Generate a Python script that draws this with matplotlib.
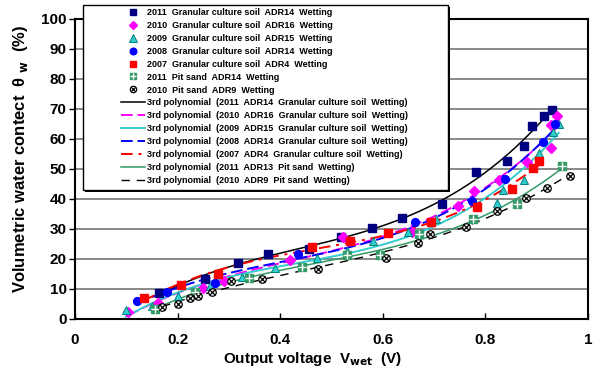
import numpy as np
import matplotlib
matplotlib.use("Agg")
import matplotlib.pyplot as plt
from matplotlib.patches import Rectangle

plt.rcParams['font.family'] = ['Liberation Sans', 'DejaVu Sans']
plt.rcParams['font.weight'] = 'bold'
plt.rcParams['mathtext.default'] = 'bf'

# --- data ---
g11_x = [0.164, 0.253, 0.318, 0.376, 0.456, 0.518, 0.579, 0.637, 0.715, 0.781, 0.842, 0.875, 0.890, 0.914, 0.930]
g11_y = [8.7, 13.3, 18.7, 21.7, 23.3, 27.4, 30.2, 33.7, 38.3, 48.9, 52.7, 57.7, 64.3, 67.7, 69.7]

g10_x = [0.103, 0.162, 0.250, 0.291, 0.420, 0.522, 0.656, 0.747, 0.778, 0.827, 0.881, 0.928, 0.928, 0.940]
g10_y = [2.5, 5.3, 10.3, 12.7, 19.7, 27.4, 29.1, 37.7, 42.7, 46.3, 52.3, 57.0, 64.7, 67.7]

g09_x = [0.099, 0.150, 0.200, 0.263, 0.325, 0.390, 0.471, 0.530, 0.581, 0.649, 0.704, 0.822, 0.835, 0.875, 0.905, 0.932, 0.943]
g09_y = [3.0, 4.3, 7.7, 11.0, 13.9, 17.0, 20.3, 22.7, 26.0, 29.0, 33.3, 38.7, 43.0, 46.3, 55.3, 62.3, 65.0]

g08_x = [0.121, 0.179, 0.273, 0.435, 0.663, 0.774, 0.838, 0.912, 0.936]
g08_y = [6.0, 9.0, 12.0, 21.7, 32.3, 39.3, 46.7, 59.0, 65.0]

g07_x = [0.134, 0.207, 0.279, 0.462, 0.536, 0.610, 0.694, 0.784, 0.852, 0.893, 0.905]
g07_y = [7.0, 11.3, 15.0, 24.0, 26.0, 28.7, 32.3, 37.3, 43.3, 50.3, 52.7]

p11_x = [0.156, 0.234, 0.339, 0.442, 0.530, 0.594, 0.671, 0.776, 0.862, 0.949]
p11_y = [3.3, 9.0, 13.7, 17.3, 21.3, 21.3, 28.3, 33.3, 38.3, 51.0]

p10_x = [0.170, 0.200, 0.224, 0.240, 0.267, 0.304, 0.364, 0.474, 0.606, 0.669, 0.692, 0.762, 0.823, 0.879, 0.920, 0.965]
p10_y = [4.0, 5.0, 7.0, 7.7, 9.0, 12.7, 13.3, 16.7, 20.3, 25.3, 28.3, 30.7, 36.0, 40.3, 43.7, 47.7]

x_ticks = [0, 0.2, 0.4, 0.6, 0.8, 1.0]
x_tick_labels = ['0', '0.2', '0.4', '0.6', '0.8', '1']
y_ticks = [0, 10, 20, 30, 40, 50, 60, 70, 80, 90, 100]

marker_labels = [
    "2011  Granular culture soil  ADR14  Wetting",
    "2010  Granular culture soil  ADR16  Wetting",
    "2009  Granular culture soil  ADR15  Wetting",
    "2008  Granular culture soil  ADR14  Wetting",
    "2007  Granular culture soil  ADR4  Wetting",
    "2011  Pit sand  ADR14  Wetting",
    "2010  Pit sand  ADR9  Wetting",
]
fit_labels = [
    "3rd polynomial  (2011  ADR14  Granular culture soil  Wetting)",
    "3rd polynomial  (2010  ADR16  Granular culture soil  Wetting)",
    "3rd polynomial  (2009  ADR15  Granular culture soil  Wetting)",
    "3rd polynomial  (2008  ADR14  Granular culture soil  Wetting)",
    "3rd polynomial  (2007  ADR4  Granular culture soil  Wetting)",
    "3rd polynomial  (2011  ADR13  Pit sand  Wetting)",
    "3rd polynomial  (2010  ADR9  Pit sand  Wetting)",
]

series = [(g11_x, g11_y), (g10_x, g10_y), (g09_x, g09_y), (g08_x, g08_y),
          (g07_x, g07_y), (p11_x, p11_y), (p10_x, p10_y)]

mstyles = [
    dict(marker='s', color='#000080', mec='#000080', ms=5.2),
    dict(marker='D', color='#FF00FF', mec='#FF00FF', ms=4.6),
    dict(marker='^', color='#33CCCC', mec='#008080', ms=6.0, mew=0.7),
    dict(marker='o', color='#0000FF', mec='#0000FF', ms=5.6),
    dict(marker='s', color='#FF0000', mec='#FF0000', ms=5.2),
    dict(marker='s', color='#339966', mec='#339966', ms=5.2),
    dict(marker='o', color='white', mec='black', ms=5.4, mew=0.9),
]
overlays = [None, None, None, None, None,
            dict(marker='+', color='white', ms=5.2, mew=1.0),
            dict(marker='x', color='black', ms=3.8, mew=0.9)]

lstyles = [
    dict(color='black', ls='-', lw=1.1),
    dict(color='#FF00FF', ls=(0, (6, 2.5)), lw=1.4),
    dict(color='#33CCCC', ls='-', lw=1.4),
    dict(color='#0000FF', ls=(0, (6, 2.5)), lw=1.4),
    dict(color='#FF0000', ls=(0, (6, 3, 1.5, 3)), lw=1.4),
    dict(color='#339966', ls='-', lw=1.1),
    dict(color='black', ls=(0, (6, 5)), lw=1.0),
]

W, H = 597, 369
fig = plt.figure(figsize=(W/100, H/100), dpi=100)
ax = fig.add_axes([75/W, 1-319/H, 513/W, 300/H])

marker_handles = []
line_handles = []
for (xs, ys), ms, ov, lsd in zip(series, mstyles, overlays, lstyles):
    xs = np.array(xs); ys = np.array(ys)
    c = np.polyfit(xs, ys, 3)
    xf = np.linspace(xs.min(), xs.max(), 200)
    ln, = ax.plot(xf, np.polyval(c, xf), zorder=3, **lsd)
    line_handles.append(ln)
    kw = dict(ms)
    col = kw.pop('color')
    h, = ax.plot(xs, ys, ls='none', mfc=col, zorder=4, **kw)
    if ov is not None:
        ovk = dict(ov)
        oc = ovk.pop('color')
        h2, = ax.plot(xs, ys, ls='none', color=oc, zorder=5, **ovk)
        marker_handles.append((h, h2))
    else:
        marker_handles.append(h)

ax.set_xlim(0, 1)
ax.set_ylim(0, 100)
ax.set_yticks(y_ticks)
ax.set_xticks(x_ticks)
ax.set_xticklabels(x_tick_labels)
ax.yaxis.grid(True, color='#808080', lw=1.3)
ax.set_axisbelow(True)
ax.tick_params(axis='x', direction='in', length=4, width=1, labelsize=11, pad=10)
ax.tick_params(axis='y', direction='out', length=4, width=1, labelsize=11, pad=2)
for lab in ax.get_xticklabels() + ax.get_yticklabels():
    lab.set_fontweight('bold')
for sp in ax.spines.values():
    sp.set_linewidth(1.5)

fig.text(313/W, 1-359/H, "Output voltage  V$_{wet}$  (V)", fontsize=11,
         fontweight='bold', ha='center', va='center')
fig.text(21/W, 1-159/H, "Volumetric water contect  θ $_{w}$  (%)", fontsize=12,
         fontweight='bold', ha='center', va='center', rotation=90)

# legend frame with shadow
shadow = Rectangle((85/W, 1-192/H), 365/W, 185/H, transform=fig.transFigure,
                   facecolor='black', edgecolor='black', lw=0, zorder=8, clip_on=False)
frame = Rectangle((83/W, 1-190/H), 365/W, 185/H, transform=fig.transFigure,
                  facecolor='white', edgecolor='black', lw=1.0, zorder=9, clip_on=False)
ax.add_patch(shadow)
ax.add_patch(frame)

leg = ax.legend(marker_handles + line_handles, marker_labels + fit_labels,
                loc='upper left', bbox_to_anchor=(121/W, 1-8/H),
                bbox_transform=fig.transFigure,
                prop=dict(family='Liberation Sans', weight='bold', size=6.5),
                frameon=False, handlelength=2.66, handletextpad=0.25,
                labelspacing=0.435, borderpad=0, borderaxespad=0, markerscale=0.85)
leg.set_zorder(10)

fig.savefig('out.png', dpi=100)
